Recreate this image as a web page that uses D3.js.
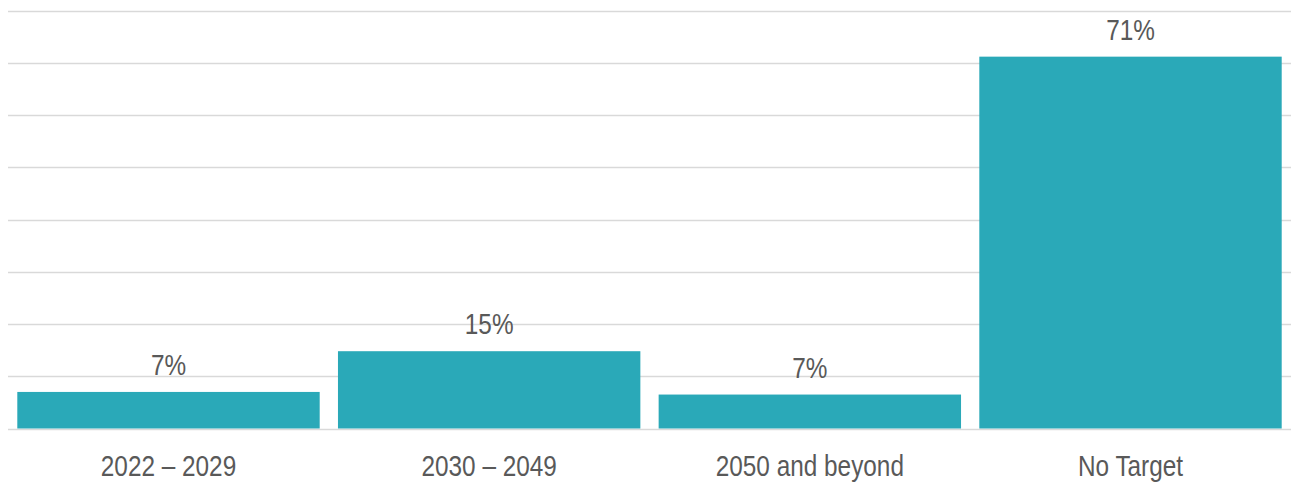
<!DOCTYPE html>
<html><head><meta charset="utf-8">
<script src="https://cdn.jsdelivr.net/npm/d3@7/dist/d3.min.js"></script>
<style>
html,body{margin:0;padding:0;background:#fff;}
text{font-family:"Liberation Sans Narrow","Arial Narrow","Liberation Sans",Arial,sans-serif;fill:#595959;}
</style></head>
<body>
<svg id="chart" width="1291" height="483"></svg>
<script>
const categories = ["2022 – 2029", "2030 – 2049", "2050 and beyond", "No Target"];
const values = [7.0, 14.8, 6.5, 71.2];
const valueLabels = ["7%", "15%", "7%", "71%"];
const yTicks = [0, 10, 20, 30, 40, 50, 60, 70, 80];

const svg = d3.select("#chart");
const plotLeft = 8, plotRight = 1291, plotTop = 10.7, plotBottom = 428.5;
const narrow = 0.84;

const x = d3.scaleBand().domain(categories).range([plotLeft, plotRight]).paddingInner(0.057).paddingOuter(0.029);
const y = d3.scaleLinear().domain([0, 80]).range([plotBottom, plotTop]);

svg.append("g").selectAll("line").data(yTicks).join("line")
  .attr("x1", plotLeft).attr("x2", plotRight)
  .attr("y1", d => Math.round(y(d)) + 0.5).attr("y2", d => Math.round(y(d)) + 0.5)
  .attr("stroke", "#d9d9d9").attr("stroke-width", 1.5);

svg.append("g").selectAll("rect").data(values).join("rect")
  .attr("x", (d, i) => x(categories[i]))
  .attr("width", x.bandwidth())
  .attr("y", d => y(d))
  .attr("height", d => y(0) - y(d))
  .attr("fill", "#2aa9b8");

svg.append("g").selectAll("text").data(values).join("text")
  .attr("transform", (d, i) => `translate(${x(categories[i]) + x.bandwidth() / 2},${y(d) - 17}) scale(${narrow},1)`)
  .attr("text-anchor", "middle")
  .attr("font-size", 29)
  .text((d, i) => valueLabels[i]);

const xAxis = d3.axisBottom(x).tickSize(0).tickPadding(0);
const gx = svg.append("g").attr("transform", `translate(0,${plotBottom})`).call(xAxis);
gx.select(".domain").remove();
gx.selectAll("text").attr("font-size", 29).attr("dy", null).attr("y", null)
  .attr("transform", `translate(0,47.5) scale(${narrow},1)`)
  .style("font-family", "'Liberation Sans Narrow','Arial Narrow','Liberation Sans',Arial,sans-serif")
  .attr("fill", "#595959");
</script>
</body></html>
